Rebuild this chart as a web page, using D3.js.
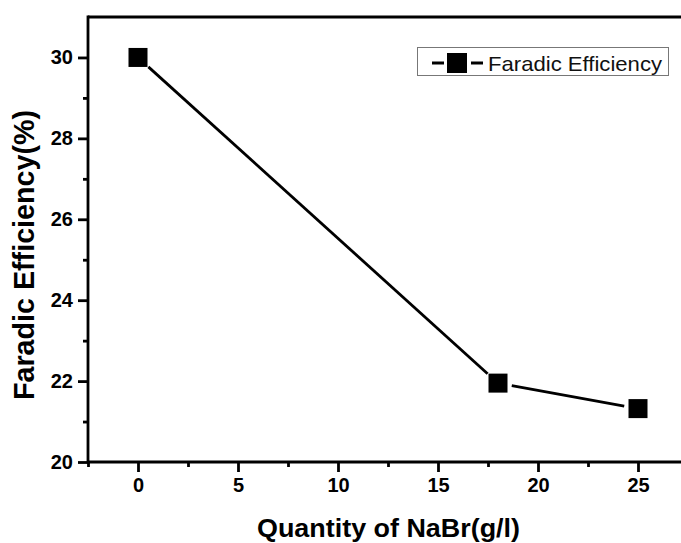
<!DOCTYPE html>
<html><head><meta charset="utf-8">
<script src="https://cdn.jsdelivr.net/npm/d3@7"></script>
<style>body{margin:0;background:#fff}svg{display:block;font-family:"Liberation Sans",Arial,sans-serif}</style>
</head><body>
<script>
const xValues = [0, 18, 25];
const yValues = [30, 21.95, 21.32];
const xTicks = [0, 5, 10, 15, 20, 25];
const xMinor = [-2.5, 2.5, 7.5, 12.5, 17.5, 22.5];
const yTicks = [20, 22, 24, 26, 28, 30];
const yMinor = [21, 23, 25, 27, 29];
const seriesName = "Faradic Efficiency";
const xTitle = "Quantity of NaBr(g/l)";
const yTitle = "Faradic Efficiency(%)";

const W = 681, H = 543;
const FONT = '"Liberation Sans",Arial,sans-serif';
const svg = d3.select("body").append("svg").attr("width", W).attr("height", H);
const x = d3.scaleLinear().domain([-2.5, 27.15]).range([88, 681]);
const y = d3.scaleLinear().domain([20, 31]).range([462, 17]);

const g = svg.append("g");
g.append("line").attr("x1", 88).attr("x2", W).attr("y1", 17).attr("y2", 17).attr("stroke", "#000").attr("stroke-width", 2.8);
g.append("line").attr("x1", 88).attr("x2", W).attr("y1", 462).attr("y2", 462).attr("stroke", "#000").attr("stroke-width", 2.8);
g.append("line").attr("x1", 88).attr("x2", 88).attr("y1", 15.6).attr("y2", 463.4).attr("stroke", "#000").attr("stroke-width", 2.8);

function styleAxis(sel) {
  sel.attr("font-family", FONT);
  sel.select(".domain").remove();
  sel.selectAll("line").attr("stroke-width", 2.8);
  sel.selectAll("text").attr("font-size", 20).attr("font-weight", "bold").attr("fill", "#000");
}
const xa = svg.append("g").attr("transform", "translate(0,462)")
  .call(d3.axisBottom(x).tickValues(xTicks).tickSize(10).tickPadding(6).tickFormat(d3.format("d")));
styleAxis(xa);
const xm = svg.append("g").attr("transform", "translate(0,462)")
  .call(d3.axisBottom(x).tickValues(xMinor).tickSize(5).tickFormat(""));
styleAxis(xm);
const ya = svg.append("g").attr("transform", "translate(88,0)")
  .call(d3.axisLeft(y).tickValues(yTicks).tickSize(10).tickPadding(5).tickFormat(d3.format("d")));
styleAxis(ya);
const ymn = svg.append("g").attr("transform", "translate(88,0)")
  .call(d3.axisLeft(y).tickValues(yMinor).tickSize(5).tickFormat(""));
styleAxis(ymn);

svg.append("text").attr("x", 257).attr("y", 537)
  .attr("font-size", 25).attr("font-weight", "bold")
  .attr("textLength", 263).attr("lengthAdjust", "spacingAndGlyphs").text(xTitle);
svg.append("text").attr("transform", "translate(34,400) rotate(-90)")
  .attr("font-size", 29).attr("font-weight", "bold")
  .attr("textLength", 290).attr("lengthAdjust", "spacingAndGlyphs").text(yTitle);

const pts = xValues.map((v, i) => [x(v), y(yValues[i])]);
const gap = 14;
for (let i = 0; i < pts.length - 1; i++) {
  const [x1, y1] = pts[i], [x2, y2] = pts[i + 1];
  const L = Math.hypot(x2 - x1, y2 - y1), ux = (x2 - x1) / L, uy = (y2 - y1) / L;
  svg.append("line").attr("x1", x1 + ux * gap).attr("y1", y1 + uy * gap)
    .attr("x2", x2 - ux * gap).attr("y2", y2 - uy * gap)
    .attr("stroke", "#000").attr("stroke-width", 2.8);
}
const s = 19;
svg.selectAll("rect.pt").data(xValues).enter().append("rect").attr("class", "pt")
  .attr("x", (d) => x(d) - s / 2).attr("y", (d, i) => y(yValues[i]) - s / 2)
  .attr("width", s).attr("height", s).attr("fill", "#000");

const lg = svg.append("g");
lg.append("rect").attr("x", 417.5).attr("y", 47.5).attr("width", 251).attr("height", 28)
  .attr("fill", "#fff").attr("stroke", "#777").attr("stroke-width", 1);
lg.append("line").attr("x1", 432).attr("x2", 444).attr("y1", 63).attr("y2", 63).attr("stroke", "#000").attr("stroke-width", 3);
lg.append("line").attr("x1", 471).attr("x2", 483).attr("y1", 63).attr("y2", 63).attr("stroke", "#000").attr("stroke-width", 3);
lg.append("rect").attr("x", 447).attr("y", 53).attr("width", 20).attr("height", 20).attr("fill", "#000");
lg.append("text").attr("x", 488).attr("y", 71).attr("font-size", 21)
  .attr("textLength", 174).attr("lengthAdjust", "spacingAndGlyphs").attr("fill", "#111").text(seriesName);
</script>
</body></html>
